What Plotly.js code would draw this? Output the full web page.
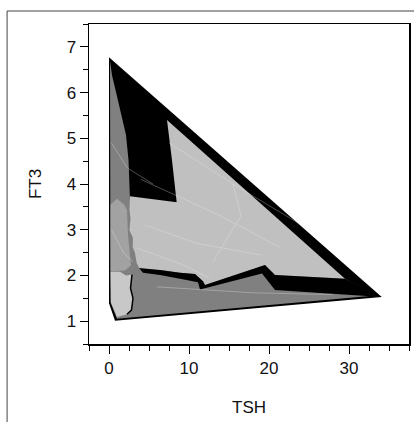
<!DOCTYPE html>
<html>
<head>
<meta charset="utf-8">
<script src="https://cdn.plot.ly/plotly-3.0.1.min.js"></script>
<style>html,body{margin:0;padding:0;background:#fff;}#chart{width:414px;height:422px;}</style>
</head>
<body>
<div id="chart"></div>
<script>
// Region outlines (TSH on x, FT3 on y)
var outerTSH = [0, 34.09, 0.75, 0];
var outerFT3 = [6.77, 1.53, 1.01, 1.39];

var darkTSH = [0.125, 0.375, 0.875, 1.5, 2.125, 2.44, 2.56, 2.625, 8.5, 29.5, 33.6, 32.9, 1.0, 0.19];
var darkFT3 = [6.69, 6.38, 6.01, 5.55, 5.07, 4.52, 3.97, 3.65, 3.60, 1.93, 1.54, 1.558, 1.055, 1.416];

var lightTSH = [7.25, 29.5, 20.75, 19.5, 12.0, 11.75, 10.75, 8.875, 6.375, 3.875, 3.46, 3.25, 2.96, 3.0, 2.56, 2.69, 2.56, 2.625, 8.46, 7.875];
var lightFT3 = [5.40, 1.93, 2.01, 2.23, 1.79, 1.875, 2.03, 2.06, 2.12, 2.13, 2.27, 2.49, 2.62, 2.82, 2.99, 3.25, 3.43, 3.73, 3.60, 4.52];

var bandTSH = [3.75, 6.375, 8.875, 10.75, 11.75, 12.0, 19.5, 20.75, 29.5, 34.09, 20.75, 19.125, 11.375, 11.125, 8.875, 6.375, 4.25];
var bandFT3 = [2.16, 2.12, 2.06, 2.03, 1.875, 1.79, 2.23, 2.01, 1.93, 1.53, 1.68, 2.04, 1.69, 1.85, 1.93, 2.01, 2.06];

var midTSH = [0.19, 1.0, 1.9, 2.25, 2.375, 2.625, 2.75, 2.0, 0.19];
var midFT3 = [3.55, 3.68, 3.55, 3.43, 2.88, 2.44, 2.22, 2.11, 2.09];

var paleTSH = [0.19, 1.375, 2.125, 2.875, 2.69, 3.0, 2.81, 2.25, 1.0, 0.25];
var paleFT3 = [2.08, 2.08, 2.0, 2.02, 1.72, 1.50, 1.24, 1.15, 1.09, 1.40];

var edgeTSH = [2.875, 2.69, 3.0, 2.81, 2.25];
var edgeFT3 = [2.02, 1.72, 1.50, 1.24, 1.15];

// faint triangulation seams visible inside the shaded regions
var seamTSH = [4.0, 14.0, 21.5, null, 7.5, 15.5, 26.0, null, 4.5, 11.0, 19.0, null, 15.5, 16.5, 13.0, null, 3.5, 9.0, 12.5, null, 6.0, 18.0, 28.0, null, 0.3, 2.3, 5.5, null, 0.3, 1.8, 3.0];
var seamFT3 = [4.1, 3.3, 2.6, null, 4.9, 4.0, 2.9, null, 3.1, 2.7, 2.45, null, 4.0, 3.3, 2.3, null, 2.6, 2.25, 1.95, null, 1.75, 1.62, 1.58, null, 4.9, 4.35, 4.0, null, 3.0, 2.5, 2.3];

var xTickVals = [0, 10, 20, 30];
var yTickVals = [1, 2, 3, 4, 5, 6, 7];

function poly(x, y, color) {
  return {type: 'scatter', mode: 'lines', x: x, y: y, fill: 'toself', fillcolor: color,
          line: {width: 0, color: color}, hoverinfo: 'skip', showlegend: false};
}

var traces = [
  poly(outerTSH, outerFT3, '#000000'),
  poly(darkTSH, darkFT3, '#808080'),
  poly(lightTSH, lightFT3, '#c0c0c0'),
  poly(bandTSH, bandFT3, '#000000'),
  poly(midTSH, midFT3, '#a2a2a2'),
  poly(paleTSH, paleFT3, '#c8c8c8'),
  {type: 'scatter', mode: 'lines', x: edgeTSH, y: edgeFT3, line: {width: 1.5, color: '#000'},
   hoverinfo: 'skip', showlegend: false},
  {type: 'scatter', mode: 'lines', x: seamTSH, y: seamFT3, connectgaps: false,
   line: {width: 0.6, color: 'rgba(235,235,235,0.55)'}, hoverinfo: 'skip', showlegend: false}
];

var font = {family: 'Liberation Sans, Arial, sans-serif', size: 17, color: '#111'};
var layout = {
  width: 414, height: 422,
  margin: {l: 89, r: 5, t: 24, b: 78},
  paper_bgcolor: '#fff', plot_bgcolor: '#fff',
  font: font,
  showlegend: false,
  xaxis: {
    range: [-2.5, 37.5], tickvals: xTickVals, ticks: 'outside', ticklen: 8, tickwidth: 1,
    tickcolor: '#000', showline: true, linecolor: '#000', linewidth: 1.5, mirror: true,
    showgrid: false, zeroline: false, tickfont: font,
    minor: {dtick: 2.5, tick0: 0, ticks: 'outside', ticklen: 5, tickwidth: 1, tickcolor: '#000', showgrid: false},
    title: {text: 'TSH', font: font, standoff: 24}, automargin: false
  },
  yaxis: {
    range: [0.5, 7.5], tickvals: yTickVals, ticks: 'outside', ticklen: 8, tickwidth: 1,
    tickcolor: '#000', showline: true, linecolor: '#000', linewidth: 1.5, mirror: true,
    showgrid: false, zeroline: false, tickfont: font,
    minor: {dtick: 0.5, tick0: 0, ticks: 'outside', ticklen: 5, tickwidth: 1, tickcolor: '#000', showgrid: false},
    title: {text: 'FT3', font: font, standoff: 20}, automargin: false
  },
  shapes: [
    {type: 'line', xref: 'paper', yref: 'paper', x0: -0.256, x1: -0.256, y0: -0.5, y1: 1.0406, line: {color: '#444', width: 1}},
    {type: 'line', xref: 'paper', yref: 'paper', x0: -0.256, x1: 1.5, y0: 1.0406, y1: 1.0406, line: {color: '#444', width: 1}}
  ]
};

Plotly.newPlot('chart', traces, layout, {staticPlot: true, displayModeBar: false});
</script>
</body>
</html>
